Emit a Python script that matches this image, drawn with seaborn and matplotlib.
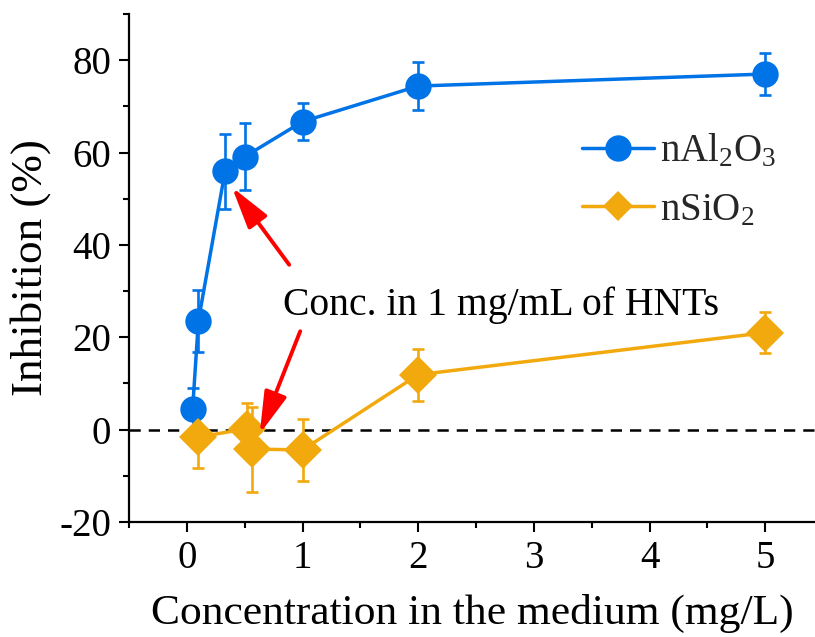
import numpy as np
import pandas as pd
import matplotlib
matplotlib.use("Agg")
import matplotlib.pyplot as plt
import seaborn as sns
from matplotlib.lines import Line2D
from matplotlib.ticker import MultipleLocator

# ---- data ----
al_x = [0.05, 0.1, 0.33, 0.5, 1, 2, 5]
al_y = [4.5, 23.6, 55.9, 59.1, 66.7, 74.4, 77.0]
al_err = [4.5, 6.7, 8.2, 7.2, 4.0, 5.1, 4.6]

si_x = [0.1, 0.52, 0.56, 1, 2, 5]
si_y = [-1.6, 0.2, -4.2, -4.4, 11.9, 21.0]
si_err = [6.6, 5.6, 9.2, 6.8, 5.6, 4.4]

xticks = [0, 1, 2, 3, 4, 5]
yticks = [-20, 0, 20, 40, 60, 80]

al_label = r'nAl$_2$O$_3$'
si_label = r'nSiO$_2$'
annot_text = 'Conc. in 1 mg/mL of HNTs'
xlabel = 'Concentration in the medium (mg/L)'
ylabel = 'Inhibition (%)'

blue = '#0073E6'
orange = '#F2A90E'

sns.set_theme(style='ticks')
plt.rcParams['font.family'] = ['Liberation Serif', 'DejaVu Serif']
plt.rcParams['mathtext.fontset'] = 'custom'
plt.rcParams['mathtext.rm'] = 'Liberation Serif'
plt.rcParams['mathtext.it'] = 'Liberation Serif:italic'
plt.rcParams['axes.unicode_minus'] = False

fig = plt.figure(figsize=(8.15, 6.37), dpi=100)
ax = fig.add_axes([129 / 815, 1 - 522 / 637, 686 / 815, (522 - 14) / 637])

df_al = pd.DataFrame({'x': al_x, 'y': al_y})
df_si = pd.DataFrame({'x': si_x, 'y': si_y})

ax.axhline(0, color='black', lw=1.8, ls=(0, (4.5, 3.2)), zorder=1)

ax.errorbar(al_x, al_y, yerr=al_err, fmt='none', ecolor=blue, elinewidth=1.9,
            capsize=4.5, capthick=1.9, zorder=2)
ax.errorbar(si_x, si_y, yerr=si_err, fmt='none', ecolor=orange, elinewidth=1.9,
            capsize=4.5, capthick=1.9, zorder=2)

sns.lineplot(data=df_al, x='x', y='y', ax=ax, color=blue, lw=2.5, marker='o',
             markersize=19, markeredgewidth=0, sort=False, zorder=3)
sns.lineplot(data=df_si, x='x', y='y', ax=ax, color=orange, lw=2.5, marker='D',
             markersize=19, markeredgewidth=0, sort=False, zorder=3)

ax.set_xlim(-0.5, 5.43)
ax.set_ylim(-20, 90)
ax.set_xticks(xticks)
ax.set_yticks(yticks)
ax.xaxis.set_minor_locator(MultipleLocator(0.5))
ax.yaxis.set_minor_locator(MultipleLocator(10))
ax.tick_params(axis='both', which='major', length=7, width=1.5, labelsize=28,
               color='black', labelcolor='black', pad=6, direction='out')
ax.tick_params(axis='both', which='minor', length=4.5, width=1.5, color='black', direction='out')
for s in ['top', 'right']:
    ax.spines[s].set_visible(False)
for s in ['left', 'bottom']:
    ax.spines[s].set_linewidth(1.6)
    ax.spines[s].set_color('black')

ax.set_xlabel(xlabel, fontsize=31.3, labelpad=12, color='black')
ax.set_ylabel(ylabel, fontsize=32.5, labelpad=6, color='black')

ax.text(2.72, 27, annot_text, fontsize=28.5, ha='center', va='center', color='black')
astyle = '-|>,head_length=0.8,head_width=0.22'
ax.annotate('', xy=(0.39, 52.5), xytext=(0.885, 35.7),
            arrowprops=dict(arrowstyle=astyle, color='red', lw=2.8,
                            mutation_scale=32, shrinkA=0, shrinkB=0))
ax.annotate('', xy=(0.63, -0.9), xytext=(0.98, 21.3),
            arrowprops=dict(arrowstyle=astyle, color='red', lw=2.8,
                            mutation_scale=32, shrinkA=0, shrinkB=0))

handles = [Line2D([], [], color=blue, lw=2.5, marker='o', markersize=19, markeredgewidth=0),
           Line2D([], [], color=orange, lw=2.5, marker='D', markersize=15, markeredgewidth=0)]
fig.legend(handles, [al_label, si_label], loc='center left',
           bbox_to_anchor=(582 / 815, 1 - 181 / 637), frameon=False, fontsize=28,
           handlelength=1.85, handletextpad=0.15, labelspacing=0.55, borderpad=0,
           borderaxespad=0)

fig.savefig('out.png', dpi=100)
